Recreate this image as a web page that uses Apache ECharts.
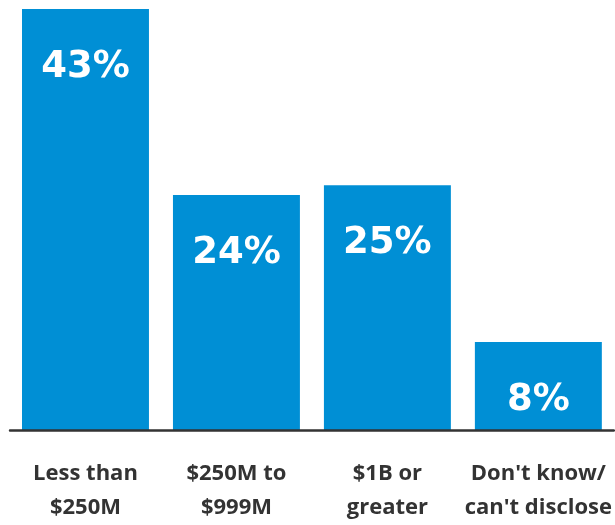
<!DOCTYPE html>
<html><head><meta charset="utf-8">
<script src="https://cdn.jsdelivr.net/npm/echarts@6/dist/echarts.min.js"></script>
<style>html,body{margin:0;padding:0;background:#fff}#c{width:615px;height:525px}</style>
</head><body><div id="c"></div>
<script>
const categories = ["Less than\n$250M", "$250M to\n$999M", "$1B or\ngreater", "Don't know/\ncan't disclose"];
const values = [43, 24, 25, 9];
const valueLabels = ["43%", "24%", "25%", "8%"];

const chart = echarts.init(document.getElementById('c'), null, {renderer: 'canvas'});
chart.setOption({
  animation: false,
  grid: {left: 10, right: 1, top: 9, bottom: 91, containLabel: false},
  xAxis: {
    type: 'category', data: categories,
    axisTick: {show: false},
    axisLine: {show: true, lineStyle: {color: '#333', width: 2.5}},
    axisLabel: {interval: 0, margin: 27, fontFamily: 'Open Sans', fontWeight: 'bold', fontSize: 22, lineHeight: 34, color: '#333'},
    z: 5
  },
  yAxis: {type: 'value', min: 0, max: 43, show: false, splitLine: {show: false}},
  series: [{
    type: 'bar',
    data: values,
    barCategoryGap: '15.9%',
    itemStyle: {color: '#008fd5'},
    label: {
      show: true, position: 'insideTop', distance: 40,
      formatter: p => valueLabels[p.dataIndex],
      color: '#fff', fontFamily: 'DejaVu Sans', fontWeight: 'bold', fontSize: 37
    }
  }]
});
</script></body></html>
